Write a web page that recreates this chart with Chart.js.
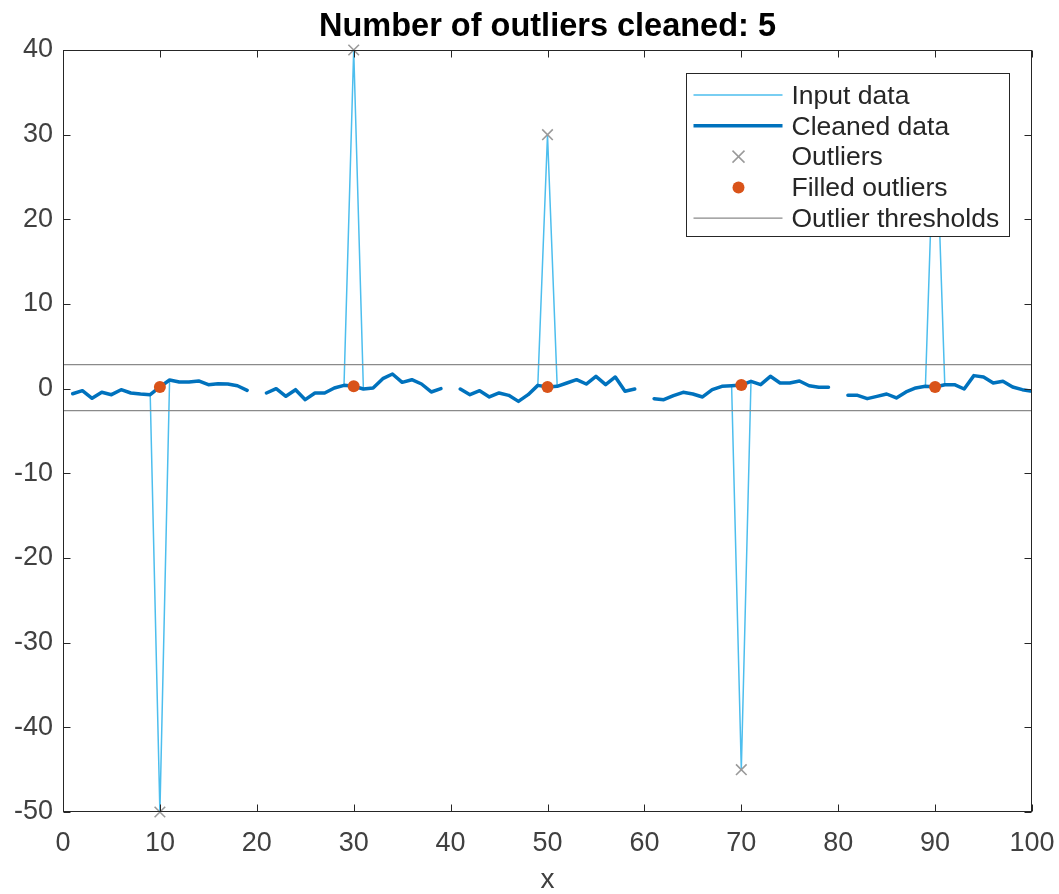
<!DOCTYPE html>
<html>
<head>
<meta charset="utf-8">
<script src="https://cdn.jsdelivr.net/npm/chart.js@4.4.1/dist/chart.umd.min.js"></script>
<style>
  html, body { margin: 0; padding: 0; background: #ffffff; }
  #wrap { width: 1059px; height: 894px; }
</style>
</head>
<body>
<div id="wrap"><canvas id="c" width="1059" height="894"></canvas></div>
<script>
// ---- data ----
const titleText = 'Number of outliers cleaned: 5';
const xAxisTitle = 'x';
const xValues = Array.from({ length: 100 }, (_, i) => i + 1);
const cleanedValues = [
  -0.6, -0.24, -1.14, -0.43, -0.71, -0.12, -0.51, -0.63, -0.71, 0.2,
  1.02, 0.79, 0.79, 0.91, 0.47, 0.59, 0.55, 0.35, -0.2, null,
  -0.51, 0, -0.9, -0.12, -1.3, -0.51, -0.51, 0.08, 0.39, 0.28,
  -0.04, 0.08, 1.18, 1.73, 0.75, 1.06, 0.55, -0.39, 0, null,
  -0.04, -0.71, -0.24, -0.98, -0.51, -0.79, -1.5, -0.71, 0.39, 0.2,
  0.28, 0.67, 1.06, 0.55, 1.46, 0.47, 1.38, -0.31, -0.04, null,
  -1.18, -1.3, -0.83, -0.43, -0.63, -0.98, -0.12, 0.28, 0.35, 0.43,
  0.87, 0.47, 1.46, 0.67, 0.67, 0.91, 0.35, 0.16, 0.16, null,
  -0.79, -0.79, -1.18, -0.91, -0.63, -1.1, -0.39, 0.08, 0.28, 0.2,
  0.47, 0.47, -0.04, 1.54, 1.38, 0.67, 0.87, 0.2, -0.12, -0.31
];
const outlierX = [10, 30, 50, 70, 90];
const outlierY = [-50, 40, 30, -45, 35];
const upperThreshold = 2.83;
const lowerThreshold = -2.6;
const xTickValues = [0, 10, 20, 30, 40, 50, 60, 70, 80, 90, 100];
const yTickValues = [-50, -40, -30, -20, -10, 0, 10, 20, 30, 40];
const legendLabels = ['Input data', 'Cleaned data', 'Outliers', 'Filled outliers', 'Outlier thresholds'];

// ---- derived tables ----
const inputValues = cleanedValues.map((v, i) => {
  const k = outlierX.indexOf(xValues[i]);
  return k >= 0 ? outlierY[k] : v;
});
const toPts = (xs, ys) => xs.map((x, i) => ({ x: x, y: ys[i] }));
const filledY = outlierX.map(x => cleanedValues[xValues.indexOf(x)]);
const xMin = xTickValues[0], xMax = xTickValues[xTickValues.length - 1];
const yMin = yTickValues[0], yMax = yTickValues[yTickValues.length - 1];

const FONT = "'Liberation Sans', Arial, Helvetica, sans-serif";
const C_INPUT = '#4DBEEE', C_CLEAN = '#0072BD', C_OUT = '#9a9a9a', C_FILL = '#D95319', C_THR = '#8a8a8a', C_AX = '#262626';

const boxTicksPlugin = {
  id: 'boxTicks',
  afterLayout(chart) {
    const t = chart.titleBlock;
    if (t) { t.left = chart.chartArea.left; t.right = chart.chartArea.right; }
  },
  afterDatasetsDraw(chart) {
    const { ctx, chartArea: a, scales } = chart;
    ctx.save();
    ctx.strokeStyle = C_AX;
    ctx.lineWidth = 1;
    const L = Math.round(a.left) + 0.5, R = Math.round(a.right) - 0.5;
    const T = Math.round(a.top) + 0.5, B = Math.round(a.bottom) - 0.5;
    ctx.strokeRect(L, T, R - L, B - T);
    const tl = 7;
    ctx.beginPath();
    xTickValues.forEach(v => {
      const px = Math.round(scales.x.getPixelForValue(v)) + 0.5;
      ctx.moveTo(px, B); ctx.lineTo(px, B - tl);
      ctx.moveTo(px, T); ctx.lineTo(px, T + tl);
    });
    yTickValues.forEach(v => {
      const py = Math.round(scales.y.getPixelForValue(v)) + 0.5;
      ctx.moveTo(L, py); ctx.lineTo(L + tl, py);
      ctx.moveTo(R, py); ctx.lineTo(R - tl, py);
    });
    ctx.stroke();
    ctx.restore();
  },
  afterDraw(chart) {
    const { ctx, chartArea: a } = chart;
    const ds = chart.data.datasets;
    const bx = Math.round(a.right - 346) + 0.5, by = Math.round(a.top + 23) + 0.5;
    const bw = 323, bh = 163;
    ctx.save();
    ctx.fillStyle = '#ffffff';
    ctx.fillRect(bx, by, bw, bh);
    ctx.strokeStyle = C_AX;
    ctx.lineWidth = 1;
    ctx.strokeRect(bx, by, bw, bh);
    const lx1 = bx + 7, lx2 = bx + 96, mx = bx + 52, tx = bx + 105;
    ctx.font = '26.5px ' + FONT;
    ctx.textBaseline = 'middle';
    ctx.textAlign = 'left';
    ds.slice(0, 5).forEach((d, i) => {
      const y = by + 21.5 + i * 30.8;
      if (d.legendKind === 'line') {
        ctx.strokeStyle = d.borderColor;
        ctx.lineWidth = d.borderWidth;
        ctx.beginPath(); ctx.moveTo(lx1, y); ctx.lineTo(lx2, y); ctx.stroke();
      } else if (d.legendKind === 'cross') {
        ctx.strokeStyle = d.pointBorderColor;
        ctx.lineWidth = 1.5;
        const s = 6;
        ctx.beginPath();
        ctx.moveTo(mx - s, y - s); ctx.lineTo(mx + s, y + s);
        ctx.moveTo(mx - s, y + s); ctx.lineTo(mx + s, y - s);
        ctx.stroke();
      } else {
        ctx.fillStyle = d.pointBackgroundColor;
        ctx.beginPath(); ctx.arc(mx, y, 6, 0, Math.PI * 2); ctx.fill();
      }
      ctx.fillStyle = C_AX;
      ctx.fillText(d.label, tx, y + 1.5);
    });
    ctx.restore();
  }
};

new Chart(document.getElementById('c'), {
  type: 'line',
  data: {
    datasets: [
      { label: legendLabels[0], legendKind: 'line', data: toPts(xValues, inputValues), borderColor: C_INPUT, borderWidth: 1.5,
        pointRadius: 0, spanGaps: false, order: 5, tension: 0 },
      { label: legendLabels[1], legendKind: 'line', data: toPts(xValues, cleanedValues), borderColor: C_CLEAN, borderWidth: 3.5,
        pointRadius: 0, spanGaps: false, order: 4, tension: 0, borderJoinStyle: 'round', borderCapStyle: 'round' },
      { label: legendLabels[2], legendKind: 'cross', data: toPts(outlierX, outlierY), showLine: false, pointStyle: 'crossRot',
        pointRadius: 7.5, pointBorderColor: C_OUT, pointBorderWidth: 1.6, pointBackgroundColor: C_OUT, borderColor: C_OUT, order: 2, clip: false },
      { label: legendLabels[3], legendKind: 'dot', data: toPts(outlierX, filledY), showLine: false, pointStyle: 'circle',
        pointRadius: 6, pointBorderWidth: 0, pointBackgroundColor: C_FILL, borderColor: C_FILL, order: 1, clip: false },
      { label: legendLabels[4], legendKind: 'line', data: [{ x: xMin, y: upperThreshold }, { x: xMax, y: upperThreshold }],
        borderColor: C_THR, borderWidth: 1.3, pointRadius: 0, order: 3 },
      { label: legendLabels[4], legendKind: 'line', data: [{ x: xMin, y: lowerThreshold }, { x: xMax, y: lowerThreshold }],
        borderColor: C_THR, borderWidth: 1.3, pointRadius: 0, order: 3 }
    ]
  },
  options: {
    responsive: false,
    animation: false,
    devicePixelRatio: 1,
    layout: { padding: { left: 0, right: 27, top: 0, bottom: 0 } },
    plugins: {
      legend: { display: false },
      tooltip: { enabled: false },
      title: {
        display: true, text: titleText, color: '#000000',
        font: { family: FONT, size: 32.5, weight: 'bold', lineHeight: 1.2 },
        padding: { top: 8, bottom: 3 }
      }
    },
    scales: {
      x: {
        type: 'linear', min: xMin, max: xMax,
        afterFit(s) { s.height = 82; s.paddingLeft = 0; s.paddingRight = 0; },
        afterBuildTicks(s) { s.ticks = xTickValues.map(v => ({ value: v })); },
        grid: { display: false, drawTicks: false },
        border: { display: false },
        ticks: { color: '#404040', font: { family: FONT, size: 27 }, padding: 15, maxRotation: 0, autoSkip: false },
        title: { display: true, text: xAxisTitle, color: '#404040', font: { family: FONT, size: 28, lineHeight: 1 }, padding: { top: 0, bottom: 0 } }
      },
      y: {
        type: 'linear', min: yMin, max: yMax,
        afterFit(s) { s.width = 63; s.paddingTop = 0; s.paddingBottom = 0; },
        afterBuildTicks(s) { s.ticks = yTickValues.map(v => ({ value: v })); },
        grid: { display: false, drawTicks: false },
        border: { display: false },
        ticks: { color: '#404040', font: { family: FONT, size: 27 }, padding: 10, autoSkip: false }
      }
    }
  },
  plugins: [boxTicksPlugin]
});
</script>
</body>
</html>
